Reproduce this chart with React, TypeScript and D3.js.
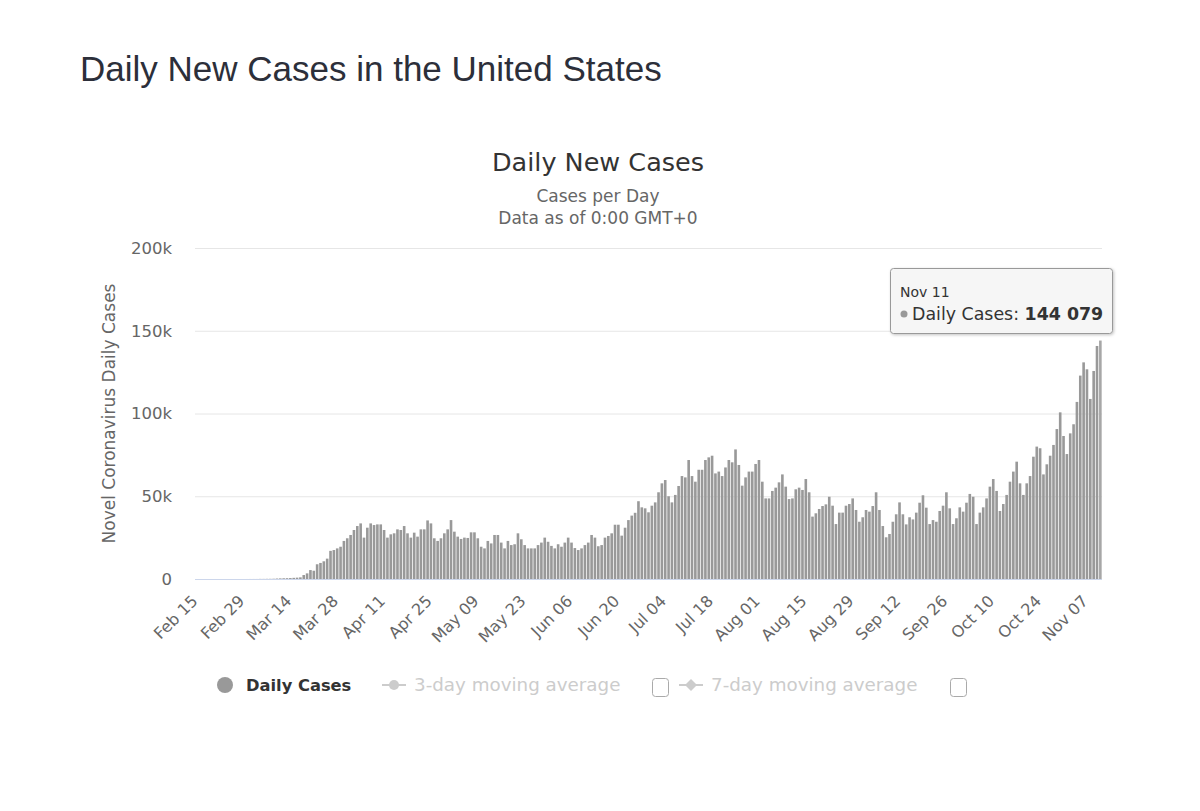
import * as d3 from 'd3';

// Daily new cases, Feb 15 – Nov 11 2020, one array per month
const febCases = [0, 0, 0, 0, 0, 0, 3, 0, 0, 1, 0, 1, 0, 1, 2];
const marCases = [
  8, 20, 24, 28, 74, 73, 109, 123, 167, 291, 371, 441, 500, 580, 700, 820,
  1000, 2400, 3400, 5400, 5000, 8900, 9700, 10700, 12300, 17000, 17500, 18500, 19500, 23000, 24600,
];
const aprCases = [
  26600, 29600, 32000, 33600, 25000, 31000, 33600, 32600, 33000, 33000,
  29600, 25000, 27000, 27600, 30000, 29600, 32000, 27600, 25000, 28000,
  25600, 30000, 30000, 35400, 33600, 24600, 23000, 24600, 27600, 30000,
];
const mayCases = [
  35600, 28600, 25600, 24200, 25000, 24800, 28200, 28200, 24600, 19500,
  18500, 23000, 21500, 26600, 26600, 22000, 18500, 23000, 20500, 21000,
  27600, 24000, 20500, 18500, 18500, 18500, 20500, 22000, 25000, 22500, 20000,
];
const junCases = [
  18500, 21000, 19500, 22000, 25000, 22000, 18700, 17500, 18500, 20500,
  22000, 26600, 25000, 19800, 20500, 25000, 26000, 27600, 32800, 32800,
  26200, 31000, 35600, 38300, 40000, 47000, 43300, 42700, 40300, 44300,
];
const julCases = [
  46300, 52400, 57800, 59800, 50000, 46300, 50800, 56200, 62200, 61400,
  71900, 62200, 58800, 66000, 66000, 71900, 73500, 74500, 63800, 64900,
  62200, 67400, 71900, 70500, 78300, 68900, 56400, 61400, 64900, 64900, 69500,
];
const augCases = [
  71900, 58800, 48700, 48700, 53200, 55200, 58400, 63200, 55800, 48300,
  48700, 54200, 55200, 53800, 60400, 52400, 37700, 39700, 42300, 44100,
  45100, 49700, 44300, 33200, 40100, 40100, 44300, 45300, 48700, 41700, 34600,
];
const sepCases = [
  37300, 41700, 40700, 44100, 52400, 41700, 32000, 25200, 27200, 34600,
  39100, 46300, 39100, 33000, 37300, 36000, 40100, 46100, 50600, 43100,
  33200, 35600, 34600, 41100, 44300, 52400, 42700, 33200, 36700, 43300,
];
const octCases = [
  40700, 46100, 51400, 49700, 33200, 40100, 43300, 48700, 55800, 60400,
  53200, 41100, 45300, 50800, 58800, 64900, 70900, 57800, 50800, 57800,
  62200, 73900, 80000, 79000, 63200, 69300, 74500, 81000, 90600, 100700, 86400,
];
const novCases = [75500, 88000, 93500, 107000, 122900, 130900, 126700, 108800, 125700, 140800, 144079];

const tickLabels = [
  'Feb 15', 'Feb 29', 'Mar 14', 'Mar 28', 'Apr 11', 'Apr 25', 'May 09', 'May 23', 'Jun 06', 'Jun 20',
  'Jul 04', 'Jul 18', 'Aug 01', 'Aug 15', 'Aug 29', 'Sep 12', 'Sep 26', 'Oct 10', 'Oct 24', 'Nov 07',
];
const yTicks = [0, 50000, 100000, 150000, 200000];

const barColor = '#999999';
const labelColor = '#666666';
const chartFont = '"DejaVu Sans", sans-serif';
const plot = { left: 195, right: 1102, top: 248, bottom: 579 };

export default function App() {
  const cases = [
    ...febCases, ...marCases, ...aprCases, ...mayCases, ...junCases,
    ...julCases, ...augCases, ...sepCases, ...octCases, ...novCases,
  ];
  const days = d3.timeDay.range(new Date(2020, 1, 15), new Date(2020, 10, 12));
  const fmt = d3.timeFormat('%b %d');

  const x = d3.scaleBand<number>()
    .domain(d3.range(cases.length))
    .range([plot.left, plot.right])
    .paddingInner(0.22)
    .paddingOuter(0.1);
  const y = d3.scaleLinear().domain([0, 200000]).range([plot.bottom, plot.top]);
  const kFmt = (v: number) => (v === 0 ? '0' : `${v / 1000}k`);

  const last = cases.length - 1;
  const hoverColor = d3.color(barColor)!.brighter(0.25).formatHex();

  return (
    <svg
      width={1200}
      height={811}
      style={{ position: 'absolute', left: 0, top: 0, background: '#fff' }}
    >
      <defs>
        <filter id="tipShadow" x="-10%" y="-20%" width="130%" height="150%">
          <feDropShadow dx="1" dy="1" stdDeviation="1.5" floodColor="#000" floodOpacity="0.25" />
        </filter>
      </defs>

      <text x={80} y={81} fontFamily='"Liberation Sans", Arial, sans-serif' fontSize={35} fill="#2c2f3a">
        Daily New Cases in the United States
      </text>

      {/* Titles */}
      <g fontFamily={chartFont} textAnchor="middle">
        <text x={598} y={171} fontSize={25.5} fill="#333">Daily New Cases</text>
        <text x={598} y={202} fontSize={17} fill={labelColor}>Cases per Day</text>
        <text x={598} y={224} fontSize={17} fill={labelColor}>Data as of 0:00 GMT+0</text>
      </g>

      {/* Grid and y axis */}
      <g fontFamily={chartFont} fontSize={16.5} fill={labelColor}>
        {yTicks.map((t) => (
          <g key={t}>
            {t > 0 && (
              <line x1={plot.left} x2={plot.right} y1={y(t) + 0.5} y2={y(t) + 0.5} stroke="#e6e6e6" />
            )}
            <text x={172} y={y(t)} dy="0.35em" textAnchor="end">{kFmt(t)}</text>
          </g>
        ))}
        <text
          transform={`translate(115,${(plot.top + plot.bottom) / 2}) rotate(-90)`}
          textAnchor="middle"
          fontSize={17}
        >
          Novel Coronavirus Daily Cases
        </text>
      </g>

      {/* Bars */}
      <g>
        {cases.map((v, i) => (
          <rect
            key={i}
            x={x(i)}
            y={y(v)}
            width={x.bandwidth()}
            height={plot.bottom - y(v)}
            fill={i === last ? hoverColor : barColor}
          />
        ))}
      </g>

      <line x1={plot.left} x2={plot.right} y1={plot.bottom + 0.5} y2={plot.bottom + 0.5} stroke="#ccd6eb" />

      {/* X tick labels */}
      <g fontFamily={chartFont} fontSize={16} fill={labelColor}>
        {tickLabels.map((lab) => {
          const i = days.findIndex((d) => fmt(d) === lab);
          const cx = x(i)! + x.bandwidth() / 2;
          return (
            <text key={lab} transform={`translate(${cx + 2},${plot.bottom + 23}) rotate(-45)`} textAnchor="end">
              {lab}
            </text>
          );
        })}
      </g>

      {/* Legend */}
      <g fontFamily={chartFont} fontSize={18.3}>
        <circle cx={225} cy={685} r={8} fill={barColor} />
        <text x={246} y={685} dy="0.35em" fontWeight="bold" fontSize={16.3} fill="#333">Daily Cases</text>

        <line x1={382} x2={406} y1={685} y2={685} stroke="#cccccc" strokeWidth={2} />
        <circle cx={394} cy={685} r={5} fill="#cccccc" />
        <text x={414} y={685} dy="0.35em" fill="#cccccc">3-day moving average</text>
        <rect x={652.5} y={678.5} width={16} height={18} rx={3} fill="#fff" stroke="#aaaaaa" />

        <line x1={679} x2={703} y1={685} y2={685} stroke="#cccccc" strokeWidth={2} />
        <path d="M691,679 L697,685 L691,691 L685,685 Z" fill="#cccccc" />
        <text x={711} y={685} dy="0.35em" fill="#cccccc">7-day moving average</text>
        <rect x={950.5} y={678.5} width={16} height={18} rx={3} fill="#fff" stroke="#aaaaaa" />
      </g>

      {/* Tooltip for the hovered point */}
      <g fontFamily={chartFont} fill="#333">
        <rect
          x={890.5}
          y={268.5}
          width={222}
          height={65}
          rx={3}
          fill="rgba(247,247,247,0.92)"
          stroke={barColor}
          filter="url(#tipShadow)"
        />
        <text x={900} y={297} fontSize={14}>{d3.timeFormat('%b %d')(days[last])}</text>
        <circle cx={904} cy={314} r={3.5} fill={barColor} />
        <text x={912} y={320} fontSize={17.4}>
          Daily Cases: <tspan fontWeight="bold">{d3.format(',')(cases[last]).replace(',', ' ')}</tspan>
        </text>
      </g>
    </svg>
  );
}
